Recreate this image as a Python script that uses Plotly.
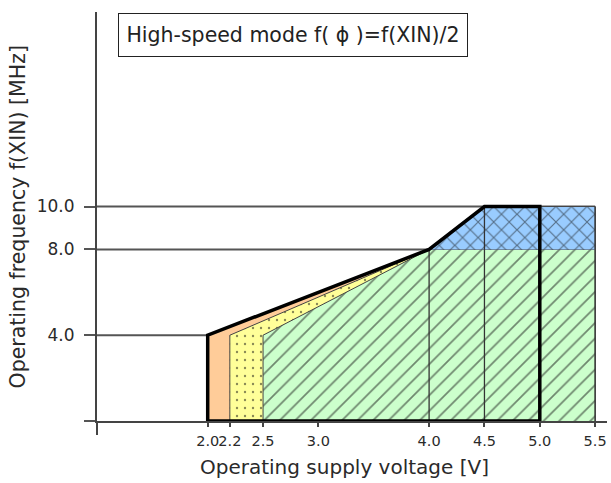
import plotly.graph_objects as go

# ---- data ----
voltage_ticks = [2.0, 2.2, 2.5, 3.0, 4.0, 4.5, 5.0, 5.5]
freq_ticks = [4.0, 8.0, 10.0]

# operating regions (supply voltage [V], frequency [MHz])
orange_v = [2.0, 2.0, 4.0, 4.0]
orange_f = [0.0, 4.0, 8.0, 0.0]
yellow_v = [2.2, 2.2, 4.0, 4.0]
yellow_f = [0.0, 4.0, 8.0, 0.0]
green_v = [2.5, 2.5, 4.0, 5.5, 5.5]
green_f = [0.0, 4.0, 8.0, 8.0, 0.0]
blue_v = [4.0, 4.5, 5.5, 5.5]
blue_f = [8.0, 10.0, 10.0, 8.0]

# guaranteed range outline
outline_v = [2.0, 2.0, 4.0, 4.5, 5.0, 5.0, 2.0]
outline_f = [0.0, 4.0, 8.0, 10.0, 10.0, 0.0, 0.0]

# vertical dividers inside the regions
divider_v = [4.0, 4.5, 5.5]
divider_top = [8.0, 10.0, 10.0]

# horizontal guide lines: (frequency, right end voltage)
guide_f = [4.0, 8.0, 10.0]
guide_end = [2.0, 5.5, 5.5]

title_text = "High-speed mode f( \u03d5 )=f(XIN)/2"
x_title = "Operating supply voltage [V]"
y_title = "Operating frequency f(XIN) [MHz]"

x_start = 1.0
font = "DejaVu Sans, Liberation Sans, Arial, sans-serif"
edge = "#444444"
txt = "#2a2a2a"

fig = go.Figure()

# guides
for f, xe in zip(guide_f, guide_end):
    fig.add_trace(go.Scatter(x=[x_start, xe], y=[f, f], mode="lines",
                             line=dict(color="#555555", width=2),
                             hoverinfo="skip", showlegend=False))

fig.add_trace(go.Scatter(x=orange_v, y=orange_f, fill="toself", mode="lines",
                         fillcolor="#FFCC99", line=dict(color=edge, width=1),
                         showlegend=False))
fig.add_trace(go.Scatter(x=yellow_v, y=yellow_f, fill="toself", mode="lines",
                         fillcolor="#FFFF99", line=dict(color=edge, width=1),
                         fillpattern=dict(shape=".", bgcolor="#FFFF99", fgcolor="#111111",
                                          size=8, solidity=0.07),
                         showlegend=False))
fig.add_trace(go.Scatter(x=green_v, y=green_f, fill="toself", mode="lines",
                         fillcolor="#CCFFCC", line=dict(color=edge, width=1),
                         fillpattern=dict(shape="/", bgcolor="#CCFFCC", fgcolor="#111111",
                                          size=11, solidity=0.16),
                         showlegend=False))
fig.add_trace(go.Scatter(x=blue_v, y=blue_f, fill="toself", mode="lines",
                         fillcolor="#99CCFF", line=dict(color=edge, width=1),
                         fillpattern=dict(shape="x", bgcolor="#99CCFF", fgcolor="#111111",
                                          size=11, solidity=0.2),
                         showlegend=False))

for v, top in zip(divider_v, divider_top):
    fig.add_trace(go.Scatter(x=[v, v], y=[0, top], mode="lines",
                             line=dict(color="#333333", width=1.3),
                             hoverinfo="skip", showlegend=False))

fig.add_trace(go.Scatter(x=outline_v, y=outline_f, mode="lines",
                         line=dict(color="#000000", width=3.5),
                         showlegend=False))

# boxed mode label
fig.add_annotation(xref="paper", yref="paper", x=0.0412, y=0.9976,
                   xanchor="left", yanchor="top", text=title_text,
                   showarrow=False, font=dict(family=font, size=20.5, color="#222222"),
                   bordercolor="#222222", borderwidth=1, borderpad=4,
                   bgcolor="white", width=340, height=34, align="center")
# axis titles
fig.add_annotation(xref="paper", yref="paper", x=0.486, y=-0.1125,
                   xanchor="center", yanchor="middle", text=x_title,
                   showarrow=False, font=dict(family=font, size=20, color=txt))
fig.add_annotation(xref="paper", yref="paper", x=-0.155, y=0.5,
                   xanchor="center", yanchor="middle", text=y_title, textangle=-90,
                   showarrow=False, font=dict(family=font, size=20.5, color=txt))

fig.update_layout(
    width=611, height=483,
    margin=dict(l=97, r=4, t=12, b=62),
    paper_bgcolor="white", plot_bgcolor="white",
    font=dict(family=font, color=txt),
    xaxis=dict(range=[x_start, 5.607], showgrid=False, zeroline=False,
               automargin=False, tickangle=0,
               showline=True, linecolor=edge, linewidth=2,
               ticks="outside", ticklen=4, tickwidth=1.5, tickcolor=edge,
               tickvals=voltage_ticks, ticktext=[f"{v:.1f}" for v in voltage_ticks],
               tickfont=dict(size=14.5, family=font, color=txt),
               ticklabelstandoff=2,
               minor=dict(tickvals=[x_start], ticks="outside", ticklen=12,
                          tickwidth=2, tickcolor=edge)),
    yaxis=dict(range=[0, 19.07], showgrid=False, zeroline=False,
               automargin=False,
               showline=True, linecolor=edge, linewidth=2,
               ticks="outside", ticklen=11, tickwidth=2, tickcolor="#555555",
               tickvals=[0.0] + freq_ticks,
               ticktext=[""] + [f"{f:.1f}" for f in freq_ticks],
               tickfont=dict(size=17, family=font, color=txt),
               ticklabelstandoff=6),
)

fig.write_html("out.html", config={"displayModeBar": False},
               post_script="document.body.style.margin='0';"
                           "document.documentElement.style.overflow='hidden';")
